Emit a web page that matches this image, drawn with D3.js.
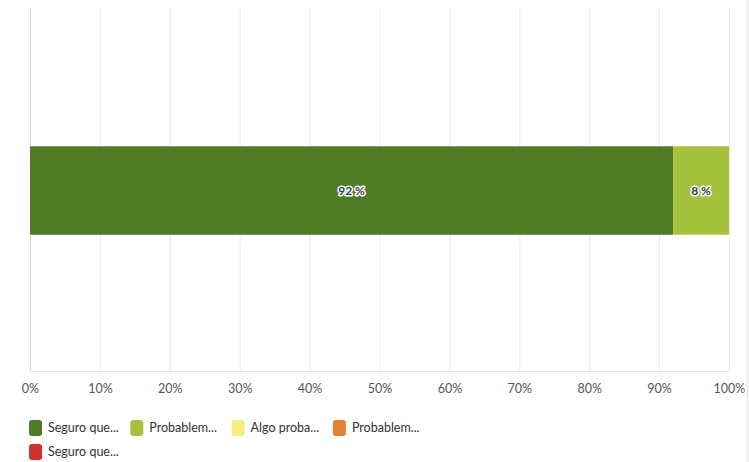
<!DOCTYPE html>
<html>
<head>
<meta charset="utf-8">
<script src="https://cdn.jsdelivr.net/npm/d3@7"></script>
<style>
  body { margin: 0; background: #fff; }
  svg { display: block; font-family: Lato, "Roboto", sans-serif; }
</style>
</head>
<body>
<svg id="chart" width="749" height="462"></svg>
<script>
const width = 749;
const height = 462;

// answer categories (truncated as shown) and their shares
const categories = ["Seguro que...", "Probablem...", "Algo proba...", "Probablem...", "Seguro que..."];
const values = [92, 8, 0, 0, 0];
const colors = ["#4f7a26", "#a6c13c", "#f6ee80", "#e58133", "#d1302b"];
const ticks = [0, 10, 20, 30, 40, 50, 60, 70, 80, 90, 100];

const margin = {left: 30, right: 20, top: 8, bottom: 91};

const svg = d3.select('#chart');

// right edge of the panel
svg.append('line')
   .attr('x1', width - 1.5).attr('x2', width - 1.5)
   .attr('y1', 0).attr('y2', height)
   .attr('stroke', '#ececec').attr('stroke-width', 2);

const xScale = d3.scaleLinear()
                 .domain([0, 100])
                 .range([margin.left, width - margin.right]);

const yScale = d3.scaleBand()
                 .domain(['row'])
                 .range([margin.top + 2, height - margin.bottom])
                 .paddingInner(0)
                 .paddingOuter(1.54);

// grid
svg.append('g')
   .selectAll('line')
   .data(ticks)
   .enter()
   .append('line')
   .attr('x1', (d) => xScale(d) + 0.5)
   .attr('x2', (d) => xScale(d) + 0.5)
   .attr('y1', margin.top)
   .attr('y2', height - margin.bottom)
   .attr('stroke', (d) => d === 0 ? '#d6d6d6' : '#ececec')
   .attr('stroke-width', 1);

svg.append('line')
   .attr('x1', margin.left).attr('x2', width - margin.right)
   .attr('y1', height - margin.bottom + 0.5).attr('y2', height - margin.bottom + 0.5)
   .attr('stroke', '#e2e2e2');

// stacked bar
let acc = 0;
const stacked = values.map((v, i) => {
    const s = {start: acc, end: acc + v, value: v, color: colors[i]};
    acc += v;
    return s;
});

svg.append('g')
   .selectAll('rect')
   .data(stacked.filter((d) => d.value > 0))
   .enter()
   .append('rect')
   .attr('x', (d) => xScale(d.start))
   .attr('width', (d) => xScale(d.end) - xScale(d.start))
   .attr('y', yScale('row'))
   .attr('height', yScale.bandwidth())
   .attr('fill', (d) => d.color);

// value labels with white halo
svg.append('g')
   .selectAll('text')
   .data(stacked.filter((d) => d.value > 0))
   .enter()
   .append('text')
   .attr('x', (d) => xScale((d.start + d.end) / 2))
   .attr('y', yScale('row') + yScale.bandwidth() / 2)
   .attr('dy', '0.35em')
   .attr('text-anchor', 'middle')
   .style('font-size', '12px')
   .style('font-weight', 'bold')
   .style('fill', '#333a4a')
   .style('stroke', '#fff')
   .style('stroke-width', '3px')
   .style('paint-order', 'stroke')
   .style('stroke-linejoin', 'round')
   .text((d) => d.value + ' %');

// x axis tick labels
const axis = svg.append('g')
   .attr('transform', 'translate(0,' + (height - margin.bottom) + ')')
   .call(d3.axisBottom(xScale).tickValues(ticks).tickSize(0).tickPadding(13).tickFormat((d) => d + '%'));
axis.select('.domain').remove();
axis.selectAll('text')
    .style('font-size', '12.5px')
    .style('fill', '#555')
    .style('font-family', 'Lato, "Roboto", sans-serif');

// legend
const legend = svg.append('g')
   .selectAll('g')
   .data(categories)
   .enter()
   .append('g')
   .attr('transform', (d, i) => 'translate(' + (29 + (i % 4) * 101.3) + ',' + (420 + Math.floor(i / 4) * 24) + ')');

legend.append('rect')
      .attr('width', 13)
      .attr('height', 16)
      .attr('rx', 3)
      .attr('fill', (d, i) => colors[i]);

legend.append('text')
      .attr('x', 19)
      .attr('y', 8)
      .attr('dy', '0.35em')
      .style('font-size', '12.5px')
      .style('fill', '#333')
      .text((d) => d);
</script>
</body>
</html>
